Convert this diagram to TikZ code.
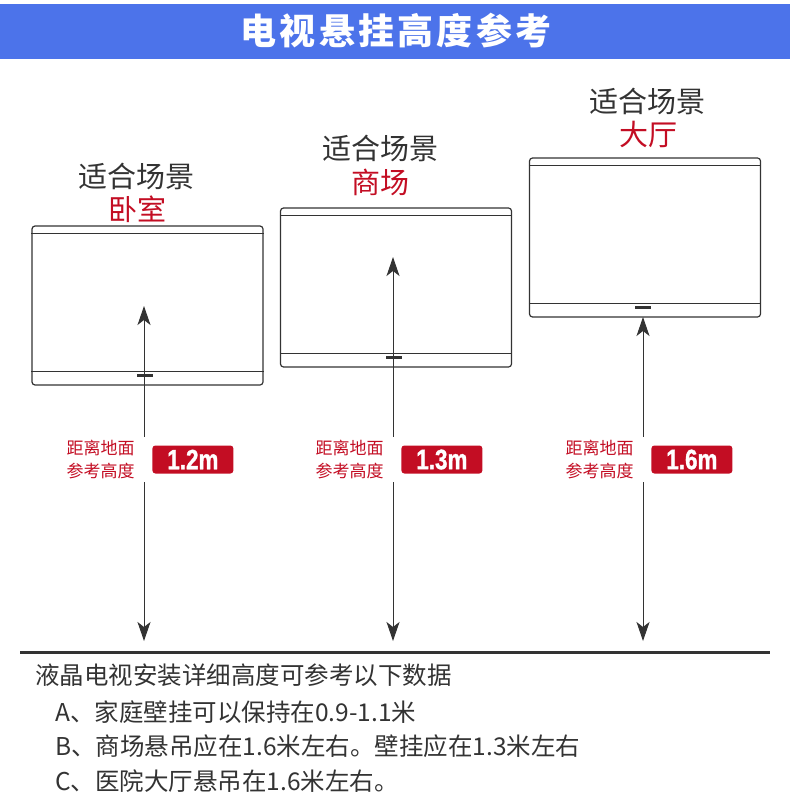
\documentclass[tikz,border=0pt]{standalone}
\usepackage{fontspec}
\setmainfont{Noto Sans CJK SC}
\newfontfamily\numfont[FakeStretch=0.8]{Liberation Sans}
\usetikzlibrary{positioning,arrows.meta}
\definecolor{tvblue}{HTML}{4C73EA}
\definecolor{tvred}{HTML}{C30D23}
\definecolor{tvgray}{HTML}{333333}
\tikzset{every tv/.style={draw=tvgray,line width=1.2pt,rounded corners=3pt,
    minimum width=231pt,minimum height=159pt,inner sep=0pt}}
\tikzset{tv/.style={every tv}}
\tikzset{button/.style={fill=tvgray,minimum width=16pt,minimum height=3.5pt,inner sep=0pt}}
\tikzset{pole/.style={draw=tvgray,line width=1pt,-{Stealth[length=19pt,width=13pt,inset=5pt]}}}
\tikzset{gap/.style={minimum width=0pt,minimum height=45pt,inner sep=0pt}}
\tikzset{scene/.style={text=tvgray,font=\fontsize{29}{29}\selectfont,inner sep=0pt}}
\tikzset{room/.style={text=tvred,font=\fontsize{29}{29}\selectfont,inner sep=0pt}}
\tikzset{note/.style={text=tvred,align=right,inner sep=0pt,font=\fontsize{17}{23.5}\selectfont}}
\tikzset{height/.style={fill=tvred,text=white,rounded corners=3pt,minimum width=81pt,
    minimum height=28pt,inner sep=0pt,
    font=\numfont\bfseries\addfontfeature{FakeBold=1.2}\fontsize{28}{28}\selectfont}}
\tikzset{info/.style={anchor=west,text=tvgray,inner sep=0pt,font=\fontsize{24.5}{24.5}\selectfont}}

\begin{document}
\begin{tikzpicture}[x=1pt,y=-1pt]
          \useasboundingbox (0,0) rectangle (790,810);
          % title bar
          \fill[tvblue] (0,4) rectangle (790,59);
          \node[text=white,font=\bfseries\fontsize{36}{36}\selectfont\addfontfeature{LetterSpace=9}] (title) at (396,31) {电视悬挂高度参考};
          % tv sets
          \node[tv] (t1) at (147.5,305.5) {};
          \node[tv] (t2) at (396,287.5) {};
          \node[tv] (t3) at (645,237.5) {};
          \draw[tvgray,line width=1.2pt] ([yshift=-8pt]t1.north west) -- ([yshift=-8pt]t1.north east)
                                         ([yshift=14pt]t1.south west) -- ([yshift=14pt]t1.south east);
          \draw[tvgray,line width=1.2pt] ([yshift=-8pt]t2.north west) -- ([yshift=-8pt]t2.north east)
                                         ([yshift=14pt]t2.south west) -- ([yshift=14pt]t2.south east);
          \draw[tvgray,line width=1.2pt] ([yshift=-8pt]t3.north west) -- ([yshift=-8pt]t3.north east)
                                         ([yshift=14pt]t3.south west) -- ([yshift=14pt]t3.south east);
          \node[button] (b1) at (144.5,375.5) {};
          \node[button] (b2) at (393.5,357.5) {};
          \node[button] (b3) at (642.5,307.5) {};
          % scene captions
          \node[scene] (s1) at (136,176) {适合场景};
          \node[room] (r1) at (137,209) {卧室};
          \node[scene] (s2) at (380,148) {适合场景};
          \node[room] (r2) at (380,182) {商场};
          \node[scene] (s3) at (647,101) {适合场景};
          \node[room] (r3) at (648,134) {大厅};
          % height arrows
          \coordinate (top1) at (144,306);
          \coordinate (top2) at (393,257);
          \coordinate (top3) at (643,317);
          \node[gap] (g1) at (144,459.5) {};
          \node[gap] (g2) at (393,459.5) {};
          \node[gap] (g3) at (643,459.5) {};
          \coordinate (bot1) at (144,641);
          \coordinate (bot2) at (393,641);
          \coordinate (bot3) at (643,641);
          \draw[pole] (g1.north) -- (top1);
          \draw[pole] (g1.south) -- (bot1);
          \draw[pole] (g2.north) -- (top2);
          \draw[pole] (g2.south) -- (bot2);
          \draw[pole] (g3.north) -- (top3);
          \draw[pole] (g3.south) -- (bot3);
          \node[note] (n1) [left=9pt of g1] {距离地面\\参考高度};
          \node[height] (h1) [right=8pt of g1] {1.2m};
          \node[note] (n2) [left=9pt of g2] {距离地面\\参考高度};
          \node[height] (h2) [right=8pt of g2] {1.3m};
          \node[note] (n3) [left=9pt of g3] {距离地面\\参考高度};
          \node[height] (h3) [right=8pt of g3] {1.6m};
          % floor
          \coordinate (fl) at (20,652);
          \coordinate (fr) at (770,652);
          \draw[tvgray,line width=3pt] (fl) -- (fr);
          % notes below the floor
          \node[info] (i0) at (35,675) {液晶电视安装详细高度可参考以下数据};
          \node[info] (ia) at (55,712) {A、家庭壁挂可以保持在0.9-1.1米};
          \node[info] (ib) at (55,746.5) {B、商场悬吊应在1.6米左右。壁挂应在1.3米左右};
          \node[info] (ic) at (55,781) {C、医院大厅悬吊在1.6米左右。};
        \end{tikzpicture}
\end{document}
